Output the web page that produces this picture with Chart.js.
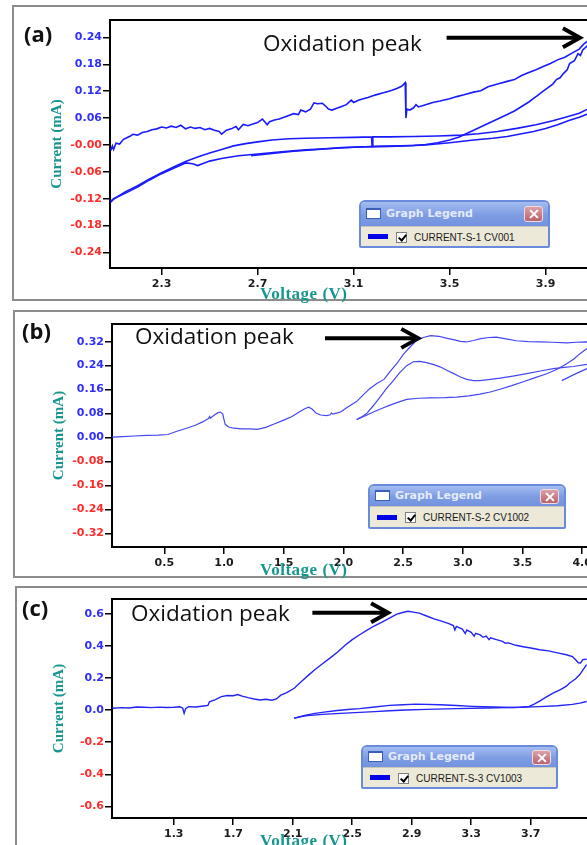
<!DOCTYPE html>
<html>
<head>
<meta charset="utf-8">
<title>CV scans – oxidation peaks</title>
<script src="https://cdn.jsdelivr.net/npm/chart.js@4.4.1/dist/chart.umd.min.js"></script>
<style>
html,body{margin:0;padding:0;background:#fff;}
body{width:587px;height:845px;overflow:hidden;position:relative;}
.frame{position:absolute;border:2px solid #8c8c8c;box-sizing:border-box;}
canvas{position:absolute;}
.tag{position:absolute;font:bold 22px "Open Sans",sans-serif;line-height:22px;color:#111;}
.note{position:absolute;font:22.5px "Open Sans",sans-serif;line-height:22px;color:#111;white-space:nowrap;}
.xt{position:absolute;font:bold 17px "Liberation Serif",serif;letter-spacing:.5px;line-height:15px;color:#17968f;white-space:nowrap;}

/* little "Graph Legend" windows */
.lg{position:absolute;border:2px solid #6a8bdc;border-radius:6px 6px 2px 2px;background:#ece9d8;overflow:hidden;box-sizing:border-box;}
.lg .bar{position:relative;background:linear-gradient(#a3bcf0,#7d9ce3 55%,#7393df);}
.lg .ico{position:absolute;left:5px;width:13px;height:8px;background:#fff;border:1px solid #3b5fb8;border-top-width:2px;}
.lg .ttl{position:absolute;left:25px;font:bold 11px "DejaVu Sans",sans-serif;color:#e4eaf8;}
.lg .x{position:absolute;right:5px;width:19px;background:linear-gradient(#dba0a6,#b9636e);border:1px solid #f4dadd;border-radius:3px;box-sizing:border-box;}
.lg .x::before,.lg .x::after{content:"";position:absolute;left:50%;top:50%;width:11px;height:2px;background:#fff;transform:translate(-50%,-50%) rotate(45deg);}
.lg .x::after{transform:translate(-50%,-50%) rotate(-45deg);}
.lg .row{position:relative;border-top:1px solid #c9c6b8;}
.lg .sw{position:absolute;left:7px;width:20px;height:5px;background:#0000e8;}
.lg .cb{position:absolute;left:35px;width:11px;height:11px;background:#fff;border:1px solid #808080;box-sizing:border-box;}
.lg .cb::after{content:"";position:absolute;left:3px;top:0;width:3px;height:6px;border:solid #000;border-width:0 2px 2px 0;transform:rotate(40deg);}
.lg .lbl{position:absolute;left:53px;font:10px "Liberation Sans",Arial,sans-serif;color:#1a1a1a;white-space:nowrap;}

#lgA{left:359px;top:200px;width:191px;height:48px;}
#lgA .bar{height:24px;} #lgA .ico{top:6px;} #lgA .ttl{top:5px;} #lgA .x{top:4px;height:16px;}
#lgA .row{height:22px;} #lgA .sw{top:7px;} #lgA .cb{top:5px;} #lgA .lbl{top:5px;}
#lgB{left:368px;top:484px;width:198px;height:45px;}
#lgB .bar{height:20px;} #lgB .ico{top:4px;} #lgB .ttl{top:3px;} #lgB .x{top:3px;height:15px;}
#lgB .row{height:22px;} #lgB .sw{top:8px;} #lgB .cb{top:5px;} #lgB .lbl{top:5px;}
#lgC{left:361px;top:745px;width:197px;height:44px;}
#lgC .bar{height:20px;} #lgC .ico{top:4px;} #lgC .ttl{top:3px;} #lgC .x{top:3px;height:15px;}
#lgC .row{height:22px;} #lgC .sw{top:7px;} #lgC .cb{top:5px;} #lgC .lbl{top:5px;}
</style>
</head>
<body>

<div class="frame" style="left:12px;top:5px;width:600px;height:296px"></div>
<div class="frame" style="left:13px;top:310px;width:600px;height:268px"></div>
<div class="frame" style="left:15px;top:586px;width:600px;height:300px"></div>

<canvas id="cvA" width="640" height="296" style="left:12px;top:5px"></canvas>
<canvas id="cvB" width="640" height="268" style="left:13px;top:310px"></canvas>
<canvas id="cvC" width="640" height="258" style="left:15px;top:587px"></canvas>

<div class="tag" style="left:24px;top:22px">(a)</div>
<div class="tag" style="left:22px;top:319px">(b)</div>
<div class="tag" style="left:22px;top:596px">(c)</div>

<div class="note" style="left:263px;top:32px">Oxidation peak</div>
<div class="note" style="left:135px;top:325px">Oxidation peak</div>
<div class="note" style="left:131px;top:602px">Oxidation peak</div>

<div class="xt" style="left:260px;top:286px">Voltage (V)</div>
<div class="xt" style="left:260px;top:562px">Voltage (V)</div>
<div class="xt" style="left:260px;top:833px">Voltage (V)</div>

<div class="lg" id="lgA"><div class="bar"><span class="ico"></span><span class="ttl">Graph Legend</span><span class="x"></span></div>
  <div class="row"><span class="sw"></span><span class="cb"></span><span class="lbl">CURRENT-S-1 CV001</span></div></div>
<div class="lg" id="lgB"><div class="bar"><span class="ico"></span><span class="ttl">Graph Legend</span><span class="x"></span></div>
  <div class="row"><span class="sw"></span><span class="cb"></span><span class="lbl">CURRENT-S-2 CV1002</span></div></div>
<div class="lg" id="lgC"><div class="bar"><span class="ico"></span><span class="ttl">Graph Legend</span><span class="x"></span></div>
  <div class="row"><span class="sw"></span><span class="cb"></span><span class="lbl">CURRENT-S-3 CV1003</span></div></div>

<script>
/* ---- data: [voltage V, current mA] ----------------------------------- */

// (a) CURRENT-S-1 CV001
const a_anodic = [
  [2.088,-0.012],[2.095,-0.002],[2.10,-0.010],[2.11,0.004],[2.125,0.002],[2.14,0.012],[2.155,0.016],
  [2.17,0.020],[2.18,0.024],[2.20,0.022],[2.22,0.028],[2.24,0.030],[2.26,0.034],[2.28,0.036],[2.30,0.040],
  [2.32,0.038],[2.34,0.042],[2.36,0.039],[2.38,0.044],[2.40,0.036],[2.42,0.040],[2.44,0.037],[2.46,0.039],
  [2.48,0.034],[2.50,0.037],[2.52,0.033],[2.54,0.030],[2.55,0.024],[2.57,0.033],[2.59,0.036],[2.61,0.041],
  [2.62,0.034],[2.64,0.046],[2.66,0.043],[2.68,0.047],[2.70,0.050],[2.72,0.058],[2.74,0.045],[2.75,0.052],
  [2.77,0.056],[2.79,0.058],[2.81,0.062],[2.83,0.066],[2.85,0.070],[2.87,0.068],[2.88,0.078],[2.90,0.074],
  [2.92,0.080],[2.935,0.094],[2.95,0.092],[2.97,0.093],[2.985,0.086],[2.995,0.080],[3.01,0.078],[3.03,0.082],
  [3.05,0.086],[3.07,0.090],[3.09,0.100],[3.10,0.095],[3.12,0.100],[3.14,0.103],[3.16,0.106],[3.18,0.110],
  [3.20,0.113],[3.22,0.116],[3.24,0.119],[3.26,0.122],[3.28,0.126],[3.30,0.131],[3.315,0.139],[3.318,0.060],
  [3.322,0.080],[3.335,0.078],[3.35,0.083],[3.36,0.090],[3.37,0.085],[3.40,0.090],[3.43,0.095],[3.46,0.098],
  [3.50,0.103],[3.53,0.108],[3.56,0.112],[3.60,0.118],[3.63,0.121],[3.66,0.130],[3.70,0.136],[3.74,0.142],
  [3.77,0.146],[3.80,0.155],[3.83,0.162],[3.86,0.168],[3.89,0.175],[3.92,0.182],[3.95,0.190],[3.98,0.196],
  [4.01,0.205],[4.04,0.214],[4.06,0.226],[4.075,0.232]
];
const a_return = [
  [4.075,0.222],[4.055,0.212],[4.045,0.200],[4.035,0.204],[4.02,0.188],[4.00,0.182],[3.99,0.168],[3.975,0.160],
  [3.96,0.150],[3.945,0.146],[3.93,0.136],[3.91,0.128],[3.89,0.120],[3.87,0.112],[3.85,0.104],[3.83,0.096],
  [3.80,0.086],[3.77,0.076],[3.74,0.068],[3.70,0.058],[3.66,0.048],[3.62,0.038],[3.58,0.028],[3.54,0.018],
  [3.50,0.011],[3.45,0.005],[3.40,0.001],[3.35,-0.001],[3.25,-0.003],[3.15,-0.004],[3.05,-0.006],
  [2.95,-0.010],[2.85,-0.014],[2.76,-0.019],[2.673,-0.024]
];
const a_lower = [
  [4.075,0.069],[4.04,0.062],[4.00,0.055],[3.95,0.045],[3.90,0.037],[3.85,0.030],[3.80,0.025],[3.74,0.019],
  [3.68,0.015],[3.60,0.011],[3.50,0.005],[3.40,0.000],[3.30,-0.002],[3.20,-0.003],[3.10,-0.005],[3.00,-0.008],
  [2.90,-0.011],[2.80,-0.015],[2.70,-0.020],[2.62,-0.024],[2.55,-0.030],[2.50,-0.036],[2.47,-0.042],
  [2.45,-0.046],[2.43,-0.042],[2.40,-0.040],[2.35,-0.052],[2.30,-0.064],[2.25,-0.078],[2.20,-0.094],
  [2.15,-0.107],[2.10,-0.120],[2.088,-0.126]
];
const a_middle = [
  [2.088,-0.128],[2.10,-0.121],[2.15,-0.104],[2.20,-0.091],[2.25,-0.076],[2.30,-0.062],[2.35,-0.049],
  [2.40,-0.037],[2.45,-0.027],[2.50,-0.018],[2.55,-0.010],[2.60,-0.002],[2.65,0.003],[2.70,0.007],
  [2.76,0.011],[2.83,0.014],[2.90,0.015],[3.00,0.016],[3.10,0.017],[3.175,0.018],[3.177,-0.003],
  [3.18,0.018],[3.25,0.018],[3.35,0.019],[3.45,0.020],[3.55,0.022],[3.62,0.025],[3.70,0.030],[3.78,0.037],
  [3.86,0.045],[3.93,0.054],[3.99,0.063],[4.04,0.071],[4.075,0.080]
];

// (b) CURRENT-S-2 CV1002
const b_anodic = [
  [0.065,0.001],[0.15,0.003],[0.25,0.005],[0.35,0.007],[0.45,0.008],[0.53,0.010],[0.60,0.020],[0.68,0.030],
  [0.76,0.041],[0.82,0.052],[0.87,0.063],[0.88,0.070],[0.885,0.064],[0.92,0.075],[0.95,0.083],[0.97,0.085],
  [0.99,0.078],[1.00,0.060],[1.01,0.044],[1.04,0.035],[1.08,0.031],[1.15,0.029],[1.22,0.029],[1.28,0.027],
  [1.35,0.034],[1.42,0.045],[1.50,0.058],[1.57,0.070],[1.63,0.085],[1.68,0.097],[1.71,0.101],[1.74,0.094],
  [1.77,0.082],[1.81,0.075],[1.86,0.073],[1.89,0.076],[1.90,0.082],[1.91,0.078],[1.95,0.082],[1.98,0.086],
  [2.03,0.100],[2.08,0.113],[2.11,0.120],[2.16,0.140],[2.22,0.163],[2.28,0.180],[2.34,0.194],[2.39,0.220],
  [2.45,0.248],[2.50,0.277],[2.56,0.303],[2.61,0.323],[2.67,0.334],[2.73,0.340],[2.80,0.338],[2.86,0.332],
  [2.93,0.326],[2.98,0.321],[3.03,0.319],[3.09,0.324],[3.15,0.330],[3.22,0.334],[3.28,0.335],[3.35,0.330],
  [3.45,0.323],[3.55,0.320],[3.65,0.319],[3.75,0.318],[3.87,0.316],[3.95,0.318],[4.04,0.319],[4.10,0.318]
];
const b_middle = [
  [2.111,0.060],[2.15,0.068],[2.195,0.080],[2.25,0.106],[2.307,0.135],[2.36,0.163],[2.418,0.190],
  [2.47,0.216],[2.53,0.240],[2.586,0.253],[2.64,0.254],[2.697,0.250],[2.75,0.244],[2.809,0.236],
  [2.87,0.224],[2.921,0.214],[2.98,0.202],[3.033,0.194],[3.09,0.190],[3.144,0.190],[3.23,0.194],
  [3.312,0.198],[3.42,0.205],[3.535,0.213],[3.65,0.222],[3.758,0.230],[3.85,0.234],[3.925,0.237],[4.04,0.244]
];
const b_lower = [
  [2.111,0.060],[2.18,0.072],[2.251,0.085],[2.32,0.097],[2.39,0.108],[2.46,0.118],[2.53,0.127],[2.63,0.131],
  [2.726,0.132],[2.85,0.133],[2.949,0.135],[3.05,0.139],[3.144,0.145],[3.23,0.152],[3.312,0.161],
  [3.41,0.173],[3.507,0.186],[3.60,0.199],[3.703,0.213],[3.79,0.228],[3.87,0.246],[3.93,0.262],
  [3.981,0.280],[4.04,0.297]
];
const b_tail = [[3.829,0.190],[3.88,0.200],[3.93,0.210],[3.98,0.219],[4.04,0.230]];

// (c) CURRENT-S-3 CV1003
const c_anodic = [
  [0.89,0.012],[0.95,0.016],[1.00,0.014],[1.05,0.020],[1.10,0.018],[1.15,0.016],[1.20,0.019],[1.25,0.017],
  [1.30,0.018],[1.34,0.021],[1.36,0.014],[1.37,-0.019],[1.38,0.010],[1.40,0.022],[1.45,0.020],[1.50,0.026],
  [1.53,0.030],[1.54,0.052],[1.58,0.066],[1.62,0.085],[1.66,0.092],[1.70,0.090],[1.73,0.098],[1.76,0.088],
  [1.80,0.078],[1.84,0.070],[1.88,0.064],[1.92,0.068],[1.96,0.062],[1.99,0.070],[2.02,0.094],[2.06,0.110],
  [2.11,0.137],[2.16,0.180],[2.21,0.222],[2.25,0.254],[2.30,0.290],[2.35,0.325],[2.40,0.362],[2.45,0.404],
  [2.50,0.440],[2.55,0.471],[2.60,0.500],[2.65,0.527],[2.70,0.550],[2.75,0.575],[2.80,0.600],[2.84,0.610],
  [2.875,0.617],[2.91,0.612],[2.95,0.606],[3.00,0.588],[3.05,0.570],[3.10,0.556],[3.15,0.540],[3.18,0.528],
  [3.19,0.500],[3.20,0.523],[3.24,0.506],[3.26,0.478],[3.27,0.500],[3.30,0.486],[3.32,0.462],[3.33,0.480],
  [3.36,0.470],[3.38,0.455],[3.40,0.462],[3.42,0.440],[3.43,0.452],[3.47,0.440],[3.51,0.430],[3.53,0.418],
  [3.55,0.420],[3.60,0.405],[3.65,0.396],[3.70,0.388],[3.76,0.377],[3.82,0.370],[3.88,0.358],[3.94,0.346],
  [3.98,0.335],[4.00,0.316],[4.02,0.296],[4.035,0.294],[4.05,0.316],[4.076,0.318]
];
const c_return = [
  [4.076,0.285],[4.05,0.250],[4.03,0.222],[4.00,0.195],[3.96,0.168],[3.94,0.150],[3.90,0.128],[3.85,0.106],
  [3.80,0.080],[3.76,0.056],[3.72,0.036],[3.69,0.023],[3.63,0.018],[3.58,0.017],[3.45,0.020],[3.31,0.024],
  [3.20,0.029],[3.09,0.034],[2.93,0.038],[2.84,0.034],[2.75,0.030],[2.65,0.020],[2.55,0.010],[2.47,0.004],
  [2.40,-0.002],[2.31,-0.012],[2.25,-0.020],[2.18,-0.032],[2.11,-0.050]
];
const c_lower = [
  [2.11,-0.050],[2.15,-0.042],[2.20,-0.034],[2.30,-0.026],[2.42,-0.020],[2.55,-0.014],[2.65,-0.009],
  [2.75,-0.004],[2.86,0.001],[3.00,0.005],[3.20,0.010],[3.40,0.014],[3.54,0.016],[3.66,0.019],[3.76,0.022],
  [3.88,0.028],[3.98,0.036],[4.03,0.044],[4.076,0.054]
];

/* ---- axes: tick values and labels ------------------------------------ */
const xTicksA = [2.3, 2.7, 3.1, 3.5, 3.9];
const yTicksA = [0.24, 0.18, 0.12, 0.06, 0, -0.06, -0.12, -0.18, -0.24];
const yLabelsA = ["0.24","0.18","0.12","0.06","-0.00","-0.06","-0.12","-0.18","-0.24"];

const xTicksB = [0.5, 1.0, 1.5, 2.0, 2.5, 3.0, 3.5, 4.0];
const yTicksB = [0.32, 0.24, 0.16, 0.08, 0, -0.08, -0.16, -0.24, -0.32];
const yLabelsB = ["0.32","0.24","0.16","0.08","0.00","-0.08","-0.16","-0.24","-0.32"];

const xTicksC = [1.3, 1.7, 2.1, 2.5, 2.9, 3.3, 3.7];
const yTicksC = [0.6, 0.4, 0.2, 0, -0.2, -0.4, -0.6];
const yLabelsC = ["0.6","0.4","0.2","0.0","-0.2","-0.4","-0.6"];

// arrows pointing at the oxidation peak, in data units
const arrowA = { from: [3.4875, 0.2395], to: [4.043, 0.2395] };
const arrowB = { from: [1.846, 0.331], to: [2.627, 0.331] };
const arrowC = { from: [2.232, 0.608], to: [2.741, 0.608] };

/* ---- drawing --------------------------------------------------------- */
const TEAL = "#17968f", POS = "#2e2eff", NEG = "#ff2b2b";
const TICKFONT = { family: "DejaVu Sans", weight: "bold", size: 11 };

const peakArrow = {
  id: "peakArrow",
  afterDatasetsDraw(chart, args, o){
    const { ctx, scales: { x, y } } = chart;
    const x0 = x.getPixelForValue(o.from[0]), y0 = y.getPixelForValue(o.from[1]);
    const x1 = x.getPixelForValue(o.to[0]),   y1 = y.getPixelForValue(o.to[1]);
    ctx.save();
    ctx.strokeStyle = "#000"; ctx.lineWidth = 4; ctx.lineJoin = "miter";
    ctx.beginPath(); ctx.moveTo(x0, y0); ctx.lineTo(x1 - 3, y1); ctx.stroke();
    ctx.beginPath(); ctx.moveTo(x1 - 17, y1 - 9.5); ctx.lineTo(x1, y1); ctx.lineTo(x1 - 17, y1 + 9.5); ctx.stroke();
    ctx.restore();
  }
};

function cvChart(id, c){
  const edge = { display: true, color: "#000", width: 2 };
  return new Chart(document.getElementById(id), {
    type: "scatter",
    data: { datasets: c.segments.map(seg => ({
      data: seg.map(p => ({ x: p[0], y: p[1] })),
      showLine: true, borderColor: c.color, borderWidth: c.lw,
      pointRadius: 0, tension: 0, fill: false
    })) },
    options: {
      responsive: false, animation: false, devicePixelRatio: 1,
      layout: { padding: { top: c.padTop, left: 0, right: 0, bottom: 0 } },
      plugins: { legend: { display: false }, tooltip: { enabled: false }, peakArrow: c.arrow },
      scales: {
        x: {
          type: "linear", position: "bottom", min: c.xMin, max: c.xMax,
          afterFit: s => { s.height = c.xh; },
          afterBuildTicks: s => { s.ticks = c.xTicks.map(v => ({ value: v })); },
          ticks: { autoSkip: false, maxRotation: 0, padding: 3, color: "#1c1c1c", font: TICKFONT,
                   callback: v => v.toFixed(1) },
          grid: { display: true, drawOnChartArea: false, tickLength: 7, color: "#000", lineWidth: 1.5 },
          border: edge
        },
        top: {
          type: "linear", axis: "x", position: "top", display: true, min: c.xMin, max: c.xMax,
          afterFit: s => { s.height = 0; },
          ticks: { display: false }, grid: { display: false }, border: edge
        },
        y: {
          type: "linear", position: "left", min: c.yMin, max: c.yMax,
          afterFit: s => { s.width = c.yw; },
          afterBuildTicks: s => { s.ticks = c.yTicks.map(v => ({ value: v })); },
          ticks: { autoSkip: false, padding: 1, font: TICKFONT,
                   callback: (v, i) => c.yLabels[i],
                   color: ctx => String(ctx.tick && ctx.tick.label).startsWith("-") ? NEG : POS },
          grid: { display: true, drawOnChartArea: false, tickLength: 7, color: "#000", lineWidth: 1.5 },
          border: edge,
          title: { display: true, text: "Current (mA)", color: TEAL,
                   font: { family: "Liberation Serif", weight: "bold", size: 15 },
                   padding: { top: c.titlePad, bottom: 0 } }
        }
      }
    },
    plugins: [peakArrow]
  });
}

cvChart("cvA", {
  segments: [a_anodic, a_return, a_lower, a_middle], color: "#1a1aff", lw: 1.6,
  xMin: 2.085, xMax: 4.3433, yMin: -0.2746, yMax: 0.279,
  xTicks: xTicksA, yTicks: yTicksA, yLabels: yLabelsA,
  padTop: 15, xh: 33, yw: 98, titlePad: 36, arrow: arrowA
});
cvChart("cvB", {
  segments: [b_anodic, b_middle, b_lower, b_tail], color: "#4646f2", lw: 1.2,
  xMin: 0.062, xMax: 4.593, yMin: -0.3657, yMax: 0.379,
  xTicks: xTicksB, yTicks: yTicksB, yLabels: yLabelsB,
  padTop: 14, xh: 31, yw: 99, titlePad: 37, arrow: arrowB
});
cvChart("cvC", {
  segments: [c_anodic, c_return, c_lower], color: "#2424f5", lw: 1.4,
  xMin: 0.885, xMax: 4.5354, yMin: -0.673, yMax: 0.694,
  xTicks: xTicksC, yTicks: yTicksC, yLabels: yLabelsC,
  padTop: 12, xh: 27, yw: 97, titlePad: 35, arrow: arrowC
});
</script>
</body>
</html>
